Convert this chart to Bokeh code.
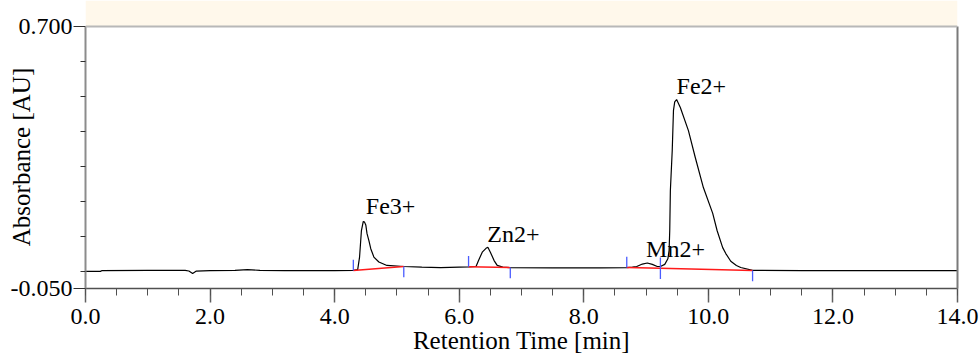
from bokeh.plotting import figure
from bokeh.models import (Range1d, FixedTicker, SingleIntervalTicker, PrintfTickFormatter,
                          LinearAxis, BoxAnnotation, Span)
from bokeh.core.properties import value
from bokeh.embed import file_html
from bokeh.resources import INLINE

# ---- data ----
time_min = [
    0.00, 0.24, 0.26, 1.00, 1.60, 1.66, 1.72, 1.78, 2.00, 2.40,
    2.60, 2.80, 3.20, 4.00, 4.30, 4.37, 4.40, 4.43, 4.46, 4.48,
    4.50, 4.52, 4.55, 4.58, 4.63, 4.71, 4.84, 5.11, 5.40, 5.70,
    6.15, 6.27, 6.31, 6.37, 6.43, 6.46, 6.50, 6.56, 6.61, 6.70,
    6.82, 7.50, 8.27, 8.69, 8.78, 8.85, 8.94, 9.02, 9.10, 9.18,
    9.23, 9.30, 9.35, 9.37, 9.38, 9.39, 9.42, 9.44, 9.46, 9.49,
    9.55, 9.68, 9.79, 9.92, 10.07, 10.14, 10.23, 10.28, 10.36, 10.45,
    10.52, 10.71, 11.50, 12.50, 13.50, 14.00]
absorbance = [
    -0.001, -0.001, 0.001, 0.002, 0.002, 0.000, -0.007, 0.000, 0.001, 0.002,
    0.004, 0.002, 0.001, 0.001, 0.002, 0.004, 0.040, 0.116, 0.142, 0.140,
    0.132, 0.107, 0.087, 0.064, 0.040, 0.026, 0.016, 0.013, 0.011, 0.010,
    0.012, 0.013, 0.030, 0.054, 0.065, 0.068, 0.054, 0.030, 0.016, 0.011,
    0.010, 0.009, 0.009, 0.010, 0.011, 0.013, 0.020, 0.023, 0.019, 0.013,
    0.013, 0.019, 0.035, 0.059, 0.116, 0.230, 0.345, 0.460, 0.484, 0.491,
    0.468, 0.402, 0.325, 0.239, 0.165, 0.116, 0.067, 0.050, 0.028, 0.016,
    0.010, 0.002, 0.001, 0.001, 0.001, 0.001]

peak_names = ["Fe3+", "Zn2+", "Mn2+", "Fe2+"]
peak_label_t = [4.50, 6.45, 9.00, 9.49]
peak_label_y = [0.185, 0.105, 0.062, 0.531]

# integration baselines (start / end of each peak)
int_start_t = [4.30, 6.15, 8.69, 9.23]
int_start_y = [0.0015, 0.012, 0.010, 0.008]
int_end_t = [5.11, 6.82, 9.23, 10.71]
int_end_y = [0.013, 0.010, 0.008, 0.0015]

x_lo, x_hi = 0.0, 14.0
y_lo, y_hi = -0.05, 0.70
y_major_ticks = [-0.05, 0.70]
y_minor_ticks = [0.0, 0.1, 0.2, 0.3, 0.4, 0.5, 0.6]
x_title = "Retention Time [min]"
y_title = "Absorbance [AU]"

# ---- layout ----
FONT = "Liberation Serif"
band_px, plot_px = 26, 262
y_top = y_hi + (y_hi - y_lo) * band_px / plot_px
# the y title is centred on the whole frame (band included); pad its top end
# with non-breaking spaces so the visible words sit centred on the data area
y_title_padded = y_title + "\u00a0" * 4

p = figure(width=979, height=356, output_backend="svg", toolbar_location=None,
           x_range=Range1d(x_lo, x_hi), y_range=Range1d(y_lo, y_top),
           min_border_left=85, min_border_right=22, min_border_top=0,
           min_border_bottom=68)
p.grid.visible = False
p.outline_line_color = None
p.background_fill_color = "white"
p.border_fill_color = "white"

# cream band above the plot area
p.add_layout(BoxAnnotation(bottom=y_hi, fill_color="#fff8eb", fill_alpha=1.0,
                           line_color=None, level="underlay"))
p.add_layout(Span(location=y_hi, dimension="width", line_color="#b8b8b8", line_width=2))

# x axis
xax = p.xaxis[0]
xax.ticker = SingleIntervalTicker(interval=2.0, num_minor_ticks=4)
xax.formatter = PrintfTickFormatter(format="%.1f")
xax.axis_line_color = "#505050"
xax.axis_line_width = 1.5
xax.major_tick_line_color = "#606060"
xax.minor_tick_line_color = "#505050"
xax.major_tick_line_width = 1.5
xax.major_tick_in = 0
xax.major_tick_out = 14
xax.minor_tick_in = 0
xax.minor_tick_out = 7
xax.major_label_standoff = 6
xax.major_label_text_font = FONT
xax.major_label_text_font_size = "24px"
xax.major_label_text_color = "black"
xax.axis_label = x_title
xax.axis_label_text_font = FONT
xax.axis_label_text_font_size = "25px"
xax.axis_label_text_font_style = "normal"
xax.axis_label_text_color = "black"
xax.axis_label_standoff = 0

# y axis
yax = p.yaxis[0]
yax.ticker = FixedTicker(ticks=y_major_ticks, minor_ticks=y_minor_ticks)
yax.formatter = PrintfTickFormatter(format="%.3f")
yax.bounds = (y_lo, y_hi)
yax.axis_line_color = "#8c8c8c"
yax.axis_line_width = 2
yax.major_tick_line_color = "#303030"
yax.minor_tick_line_color = "#303030"
yax.major_tick_in = 0
yax.major_tick_out = 12
yax.minor_tick_in = 0
yax.minor_tick_out = 5
yax.major_label_standoff = 1
yax.major_label_text_font = FONT
yax.major_label_text_font_size = "24px"
yax.major_label_text_color = "black"
yax.axis_label = y_title_padded
yax.axis_label_text_font = FONT
yax.axis_label_text_font_size = "25px"
yax.axis_label_text_font_style = "normal"
yax.axis_label_text_color = "black"
yax.axis_label_standoff = -27

# right border
rax = LinearAxis(bounds=(y_lo, y_hi), ticker=FixedTicker(ticks=[]),
                 major_tick_line_color=None, minor_tick_line_color=None,
                 major_label_text_font_size="0px",
                 axis_line_color="#7a7a7a", axis_line_width=2)
p.add_layout(rax, "right")

# signal
p.line(time_min, absorbance, line_color="black", line_width=1.2)

# integration baselines
p.segment(x0=int_start_t, y0=int_start_y, x1=int_end_t, y1=int_end_y,
          line_color="#ff1a1a", line_width=1.5)
mark = 0.031
p.segment(x0=int_start_t, y0=int_start_y, x1=int_start_t,
          y1=[v + mark for v in int_start_y], line_color="#4a5cff", line_width=1.3)
p.segment(x0=int_end_t, y0=int_end_y, x1=int_end_t,
          y1=[v - mark for v in int_end_y], line_color="#4a5cff", line_width=1.3)

# peak labels
p.text(x=peak_label_t, y=peak_label_y, text=peak_names,
       text_font=value(FONT), text_font_size="24px", text_color="black",
       text_align="left", text_baseline="alphabetic")

open("out.html", "w").write(file_html(p, INLINE))
